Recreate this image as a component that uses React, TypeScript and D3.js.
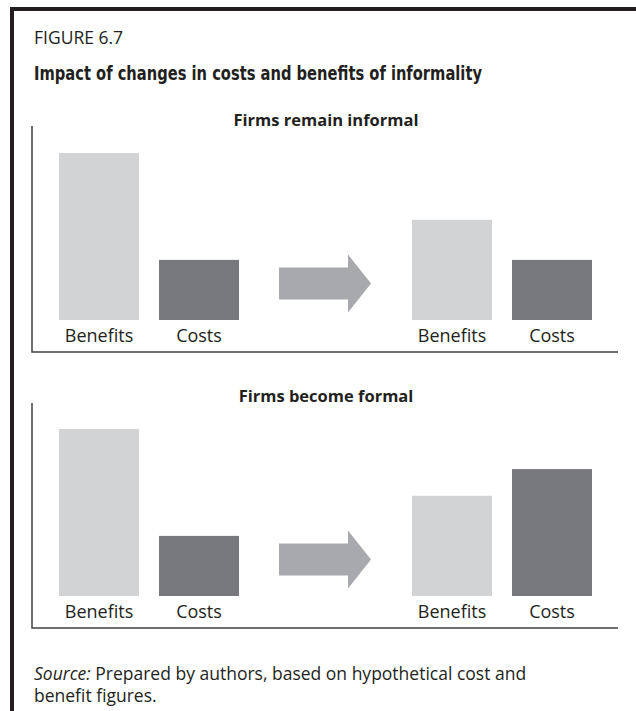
import React from "react";
import * as d3 from "d3";

const categories = ["Benefits", "Costs"];
const panelTitles = ["Firms remain informal", "Firms become formal"];
const informalBefore = [100, 36];
const informalAfter = [60, 36];
const formalBefore = [100, 36];
const formalAfter = [60, 76];

const figureLabel = "FIGURE 6.7";
const figureTitle = "Impact of changes in costs and benefits of informality";
const sourceLine1 = " Prepared by authors, based on hypothetical cost and";
const sourceLine2 = "benefit figures.";

const W = 636;
const H = 711;
const TEXT = "#231f20";
const LIGHT = "#d1d3d4";
const DARK = "#77787b";
const ARROW = "#a7a9ac";
const AXIS = "#414042";
const BODY_FONT = "'Open Sans', 'Noto Sans', sans-serif";
const LEFT = 34;

const panels = [
  { title: panelTitles[0], before: informalBefore, after: informalAfter, top: 126, base: 320, axisY: 352, titleY: 126 },
  { title: panelTitles[1], before: formalBefore, after: formalAfter, top: 403, base: 596, axisY: 628, titleY: 402 },
];

const xLeft = d3.scaleBand<string>().domain(categories).range([49, 249]).paddingInner(0.2).paddingOuter(0.1);
const xRight = d3.scaleBand<string>().domain(categories).range([402, 602]).paddingInner(0.2).paddingOuter(0.1);
const colors = d3.scaleOrdinal<string, string>().domain(categories).range([LIGHT, DARK]);

function Arrow({ cy }: { cy: number }) {
  const x0 = 279, xh = 348, x1 = 371;
  const bh = 16, hh = 29;
  const path = d3.path();
  path.moveTo(x0, cy - bh);
  path.lineTo(xh, cy - bh);
  path.lineTo(xh, cy - hh);
  path.lineTo(x1, cy);
  path.lineTo(xh, cy + hh);
  path.lineTo(xh, cy + bh);
  path.lineTo(x0, cy + bh);
  path.closePath();
  return <path d={path.toString()} fill={ARROW} />;
}

function Panel({ p }: { p: typeof panels[number] }) {
  const y = d3.scaleLinear().domain([0, 100]).range([p.base, p.base - 167]);
  const groups = [
    { x: xLeft, vals: p.before },
    { x: xRight, vals: p.after },
  ];
  return (
    <g>
      <text x={326} y={p.titleY} textAnchor="middle" fontFamily={BODY_FONT} fontWeight="bold" fontSize={16.5} fill={TEXT}>
        {p.title}
      </text>
      {groups.map((g, gi) =>
        categories.map((c, i) => (
          <g key={`${gi}-${c}`}>
            <rect x={g.x(c)} y={y(g.vals[i])} width={g.x.bandwidth()} height={y(0) - y(g.vals[i])} fill={colors(c)} />
            <text x={(g.x(c) as number) + g.x.bandwidth() / 2} y={p.base + 21.5} textAnchor="middle" fontFamily={BODY_FONT} fontSize={18} fill={TEXT}>
              {c}
            </text>
          </g>
        ))
      )}
      <Arrow cy={p.base - 36.5} />
      <path d={`M32,${p.top} V${p.axisY} H618`} fill="none" stroke={AXIS} strokeWidth={1.5} />
    </g>
  );
}

export default function App() {
  return (
    <svg width={W} height={H} style={{ position: "absolute", left: 0, top: 0, background: "#fff" }}>
      <rect x={0} y={0} width={W} height={H} fill="#fff" />
      <path d={`M12,${H} V9 H${W}`} fill="none" stroke={TEXT} strokeWidth={4} />
      <text x={LEFT} y={44} fontFamily={BODY_FONT} fontSize={17.5} fill={TEXT}>{figureLabel}</text>
      <text x={LEFT} y={80} fontFamily="'Liberation Sans Narrow', 'DejaVu Sans Condensed', sans-serif" fontWeight="bold" fontSize={19} fill={TEXT} textLength={448} lengthAdjust="spacingAndGlyphs">
        {figureTitle}
      </text>
      {panels.map((p, i) => <Panel key={i} p={p} />)}
      <text x={LEFT} y={680} fontFamily={BODY_FONT} fontSize={17.5} fill={TEXT}>
        <tspan fontStyle="italic">Source:</tspan>{sourceLine1}
      </text>
      <text x={LEFT} y={702} fontFamily={BODY_FONT} fontSize={17.5} fill={TEXT}>{sourceLine2}</text>
    </svg>
  );
}
